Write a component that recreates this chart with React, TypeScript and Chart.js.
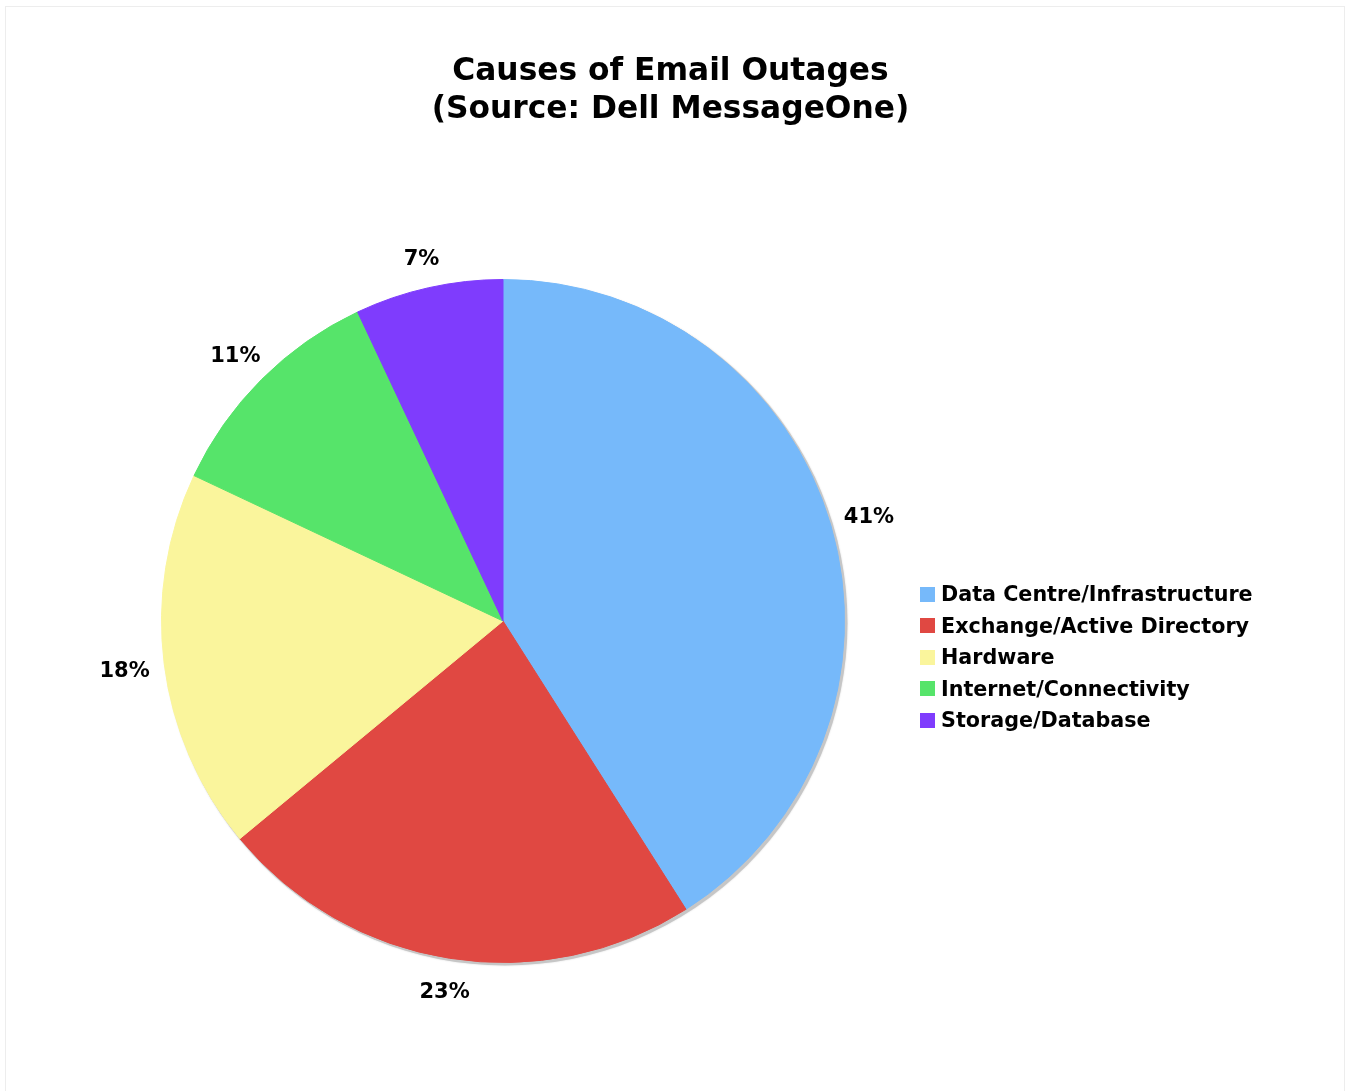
import React, { useEffect, useRef } from "react";
import { Chart, registerables } from "chart.js";

Chart.register(...registerables);

const titleLines = ["Causes of Email Outages", "(Source: Dell MessageOne)"];
const categories = [
  "Data Centre/Infrastructure",
  "Exchange/Active Directory",
  "Hardware",
  "Internet/Connectivity",
  "Storage/Database",
];
const shares = [41, 23, 18, 11, 7];
const sliceColors = ["#76b9fa", "#e04842", "#faf59c", "#56e46a", "#7f3cfd"];

const FONT = "'DejaVu Sans', Verdana, sans-serif";

const shadowPlugin = {
  id: "pieShadow",
  beforeDatasetsDraw(chart: any) {
    const arc = chart.getDatasetMeta(0).data[0];
    if (!arc) return;
    const { x, y, outerRadius } = arc.getProps(["x", "y", "outerRadius"], true);
    const ctx = chart.ctx;
    ctx.save();
    ctx.fillStyle = "#c6c6c6";
    ctx.shadowColor = "rgba(0,0,0,0.15)";
    ctx.shadowBlur = 2;
    ctx.beginPath();
    ctx.arc(x + 2, y + 2, outerRadius + 1, 0, Math.PI * 2);
    ctx.fill();
    ctx.restore();
  },
};

const labelPlugin = {
  id: "outsideLabels",
  afterDatasetsDraw(chart: any) {
    const meta = chart.getDatasetMeta(0);
    const ctx = chart.ctx;
    const data = chart.data.datasets[0].data as number[];
    const total = data.reduce((a, b) => a + b, 0);
    ctx.save();
    ctx.font = `bold 21px ${FONT}`;
    ctx.fillStyle = "#000";
    ctx.textAlign = "center";
    ctx.textBaseline = "middle";
    meta.data.forEach((el: any, i: number) => {
      const { x, y, startAngle, endAngle, outerRadius } = el.getProps(
        ["x", "y", "startAngle", "endAngle", "outerRadius"],
        true
      );
      const mid = (startAngle + endAngle) / 2;
      const d = outerRadius + 30 + 10 * Math.abs(Math.cos(mid));
      const tx = x + Math.cos(mid) * d;
      const ty = y + Math.sin(mid) * d + 3;
      ctx.fillText(`${Math.round((data[i] / total) * 100)}%`, tx, ty);
    });
    ctx.restore();
  },
};

export default function App() {
  const canvasRef = useRef<HTMLCanvasElement | null>(null);

  useEffect(() => {
    if (!canvasRef.current) return;
    const chart = new Chart(canvasRef.current, {
      type: "pie",
      data: {
        labels: categories,
        datasets: [
          {
            data: shares,
            backgroundColor: sliceColors,
            borderColor: sliceColors,
            borderWidth: 1,
          },
        ],
      },
      options: {
        responsive: false,
        animation: false,
        layout: {
          padding: { left: 161, right: 503, top: 200, bottom: 49 },
        },
        plugins: {
          legend: { display: false },
          tooltip: { enabled: false },
          title: { display: false },
        },
      },
      plugins: [shadowPlugin, labelPlugin],
    });
    return () => chart.destroy();
  }, []);

  return (
    <div style={{ position: "absolute", left: 0, top: 0, width: 1348, height: 1091, background: "#fff" }}>
      <div
        style={{
          position: "absolute",
          left: 5,
          top: 6,
          width: 1340,
          height: 1090,
          border: "1px solid #ededed",
          boxSizing: "border-box",
        }}
      />
      <canvas ref={canvasRef} width={1348} height={1091} style={{ position: "absolute", left: 0, top: 0 }} />
      <div
        style={{
          position: "absolute",
          left: 0,
          top: 50,
          width: 1341,
          textAlign: "center",
          fontFamily: FONT,
          fontWeight: "bold",
          fontSize: 31.3,
          lineHeight: "38px",
          color: "#000",
        }}
      >
        {titleLines.map((t) => (
          <div key={t}>{t}</div>
        ))}
      </div>
      <div
        style={{
          position: "absolute",
          left: 920,
          top: 578.5,
          fontFamily: FONT,
          fontWeight: "bold",
          fontSize: 20.7,
          color: "#000",
        }}
      >
        {categories.map((c, i) => (
          <div key={c} style={{ display: "flex", alignItems: "center", height: 31.5, whiteSpace: "nowrap" }}>
            <span
              style={{
                display: "inline-block",
                width: 15,
                height: 15,
                background: sliceColors[i],
                marginRight: 6,
              }}
            />
            <span>{c}</span>
          </div>
        ))}
      </div>
    </div>
  );
}
